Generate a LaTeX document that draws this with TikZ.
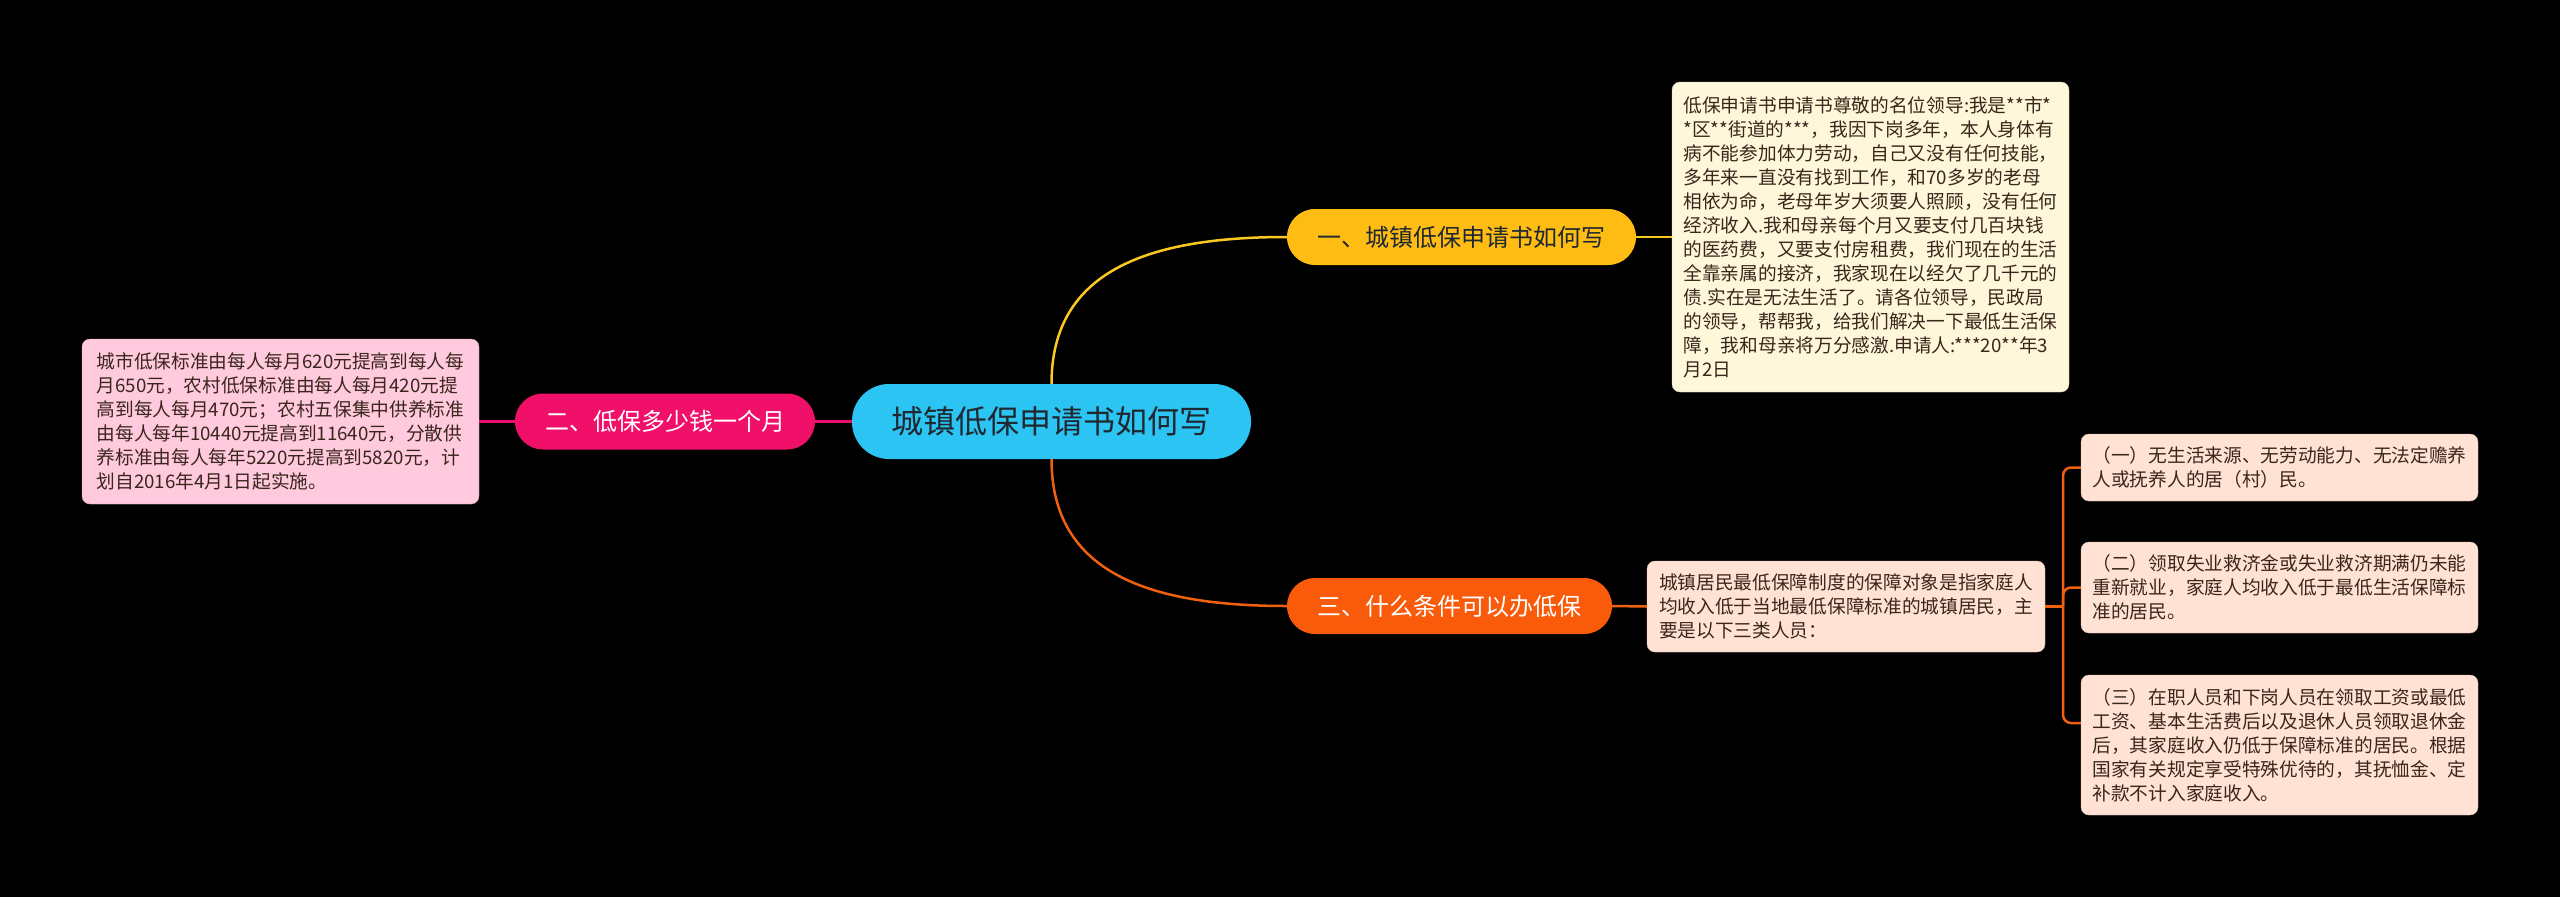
\documentclass[tikz,border=0pt]{standalone}
\usepackage{fontspec}
\setmainfont{Noto Sans CJK SC}
\usetikzlibrary{positioning}
\definecolor{rootblue}{RGB}{44,196,242}
\definecolor{rootink}{RGB}{30,40,48}
\definecolor{topicyellow}{RGB}{255,188,18}
\definecolor{topicpink}{RGB}{240,16,106}
\definecolor{topicorange}{RGB}{250,91,11}
\definecolor{linkyellow}{RGB}{250,200,30}
\definecolor{linkpink}{RGB}{232,16,106}
\definecolor{linkorange}{RGB}{240,96,15}
\definecolor{leafcream}{RGB}{255,247,218}
\definecolor{leafpink}{RGB}{255,201,222}
\definecolor{leafpeach}{RGB}{255,226,211}
\definecolor{leafink}{RGB}{58,38,28}
\tikzset{
    rootnode/.style={fill=rootblue, text=rootink, rounded corners=37pt,
        minimum width=399pt, minimum height=75pt, inner sep=0pt,
        font=\fontsize{32}{38}\selectfont},
    topicnode/.style={rounded corners=28pt, minimum height=56pt, inner sep=0pt,
        font=\fontsize{24}{29}\selectfont},
    leafnode/.style={rounded corners=8pt, minimum width=397pt, inner sep=0pt,
        align=left, text=leafink, font=\fontsize{18.7}{24}\selectfont},
    link/.style={line width=2.5pt},
}

\begin{document}
\begin{tikzpicture}[x=1pt, y=-1pt]
\fill[black] (0,0) rectangle (2560,897);
\useasboundingbox (0,0) rectangle (2560,897);

\node[rootnode] (root) at (1051.5,421.5) {城镇低保申请书如何写};

\node[topicnode, fill=topicyellow, text=rootink, minimum width=349pt] (howto) at (1461.5,237) {一、城镇低保申请书如何写};
\node[topicnode, fill=topicpink, text=white, minimum width=300pt] (amount) at (665,421.5) {二、低保多少钱一个月};
\node[topicnode, fill=topicorange, text=white, minimum width=325pt] (terms) at (1449.5,606) {三、什么条件可以办低保};

\node[leafnode, fill=leafcream, draw=leafcream!85!black, minimum height=310pt] (letter) at (1870.5,237) {低保申请书申请书尊敬的名位领导:我是**市*\\*区**街道的***，我因下岗多年，本人身体有\\病不能参加体力劳动，自己又没有任何技能，\\多年来一直没有找到工作，和70多岁的老母\\相依为命，老母年岁大须要人照顾，没有任何\\经济收入.我和母亲每个月又要支付几百块钱\\的医药费，又要支付房租费，我们现在的生活\\全靠亲属的接济，我家现在以经欠了几千元的\\债.实在是无法生活了。请各位领导，民政局\\的领导，帮帮我，给我们解决一下最低生活保\\障，我和母亲将万分感激.申请人:***20**年3\\月2日};
\node[leafnode, fill=leafpink, draw=leafpink!85!black, minimum height=165pt] (standard) at (280.5,421.5) {城市低保标准由每人每月620元提高到每人每\\月650元，农村低保标准由每人每月420元提\\高到每人每月470元；农村五保集中供养标准\\由每人每年10440元提高到11640元，分散供\\养标准由每人每年5220元提高到5820元，计\\划自2016年4月1日起实施。};
\node[leafnode, fill=leafpeach, draw=leafpeach!85!black, minimum width=398pt, minimum height=91pt] (target) at (1846,606.5) {城镇居民最低保障制度的保障对象是指家庭人\\均收入低于当地最低保障标准的城镇居民，主\\要是以下三类人员：};
\node[leafnode, fill=leafpeach, draw=leafpeach!85!black, minimum height=67pt] (groupa) at (2279.5,467.5) {（一）无生活来源、无劳动能力、无法定赡养\\人或抚养人的居（村）民。};
\node[leafnode, fill=leafpeach, draw=leafpeach!85!black, minimum height=91pt] (groupb) at (2279.5,587.5) {（二）领取失业救济金或失业救济期满仍未能\\重新就业，家庭人均收入低于最低生活保障标\\准的居民。};
\node[leafnode, fill=leafpeach, draw=leafpeach!85!black, minimum height=140pt] (groupc) at (2279.5,745) {（三）在职人员和下岗人员在领取工资或最低\\工资、基本生活费后以及退休人员领取退休金\\后，其家庭收入仍低于保障标准的居民。根据\\国家有关规定享受特殊优待的，其抚恤金、定\\补款不计入家庭收入。};

\draw[link, linkyellow] (root.north) .. controls +(0,-114) and +(-137,0) .. (howto.west);
\draw[link, linkorange] (root.south) .. controls +(0,114) and +(-137,0) .. (terms.west);
\draw[link, linkpink] (root.west) -- (amount.east);
\draw[link, linkpink] (amount.west) -- (standard.east);
\draw[link, linkyellow] (howto.east) -- (letter.west);
\draw[link, linkorange] (terms.east) -- (target.west);

\coordinate (fork) at (2063,606.5);
\draw[link, linkorange] (target.east) -- (fork);
\draw[link, linkorange, rounded corners=8pt] (fork) |- (groupa.west);
\draw[link, linkorange, rounded corners=8pt] (fork) |- (groupb.west);
\draw[link, linkorange, rounded corners=8pt] (fork) |- ([yshift=22pt]groupc.west);
\end{tikzpicture}
\end{document}
